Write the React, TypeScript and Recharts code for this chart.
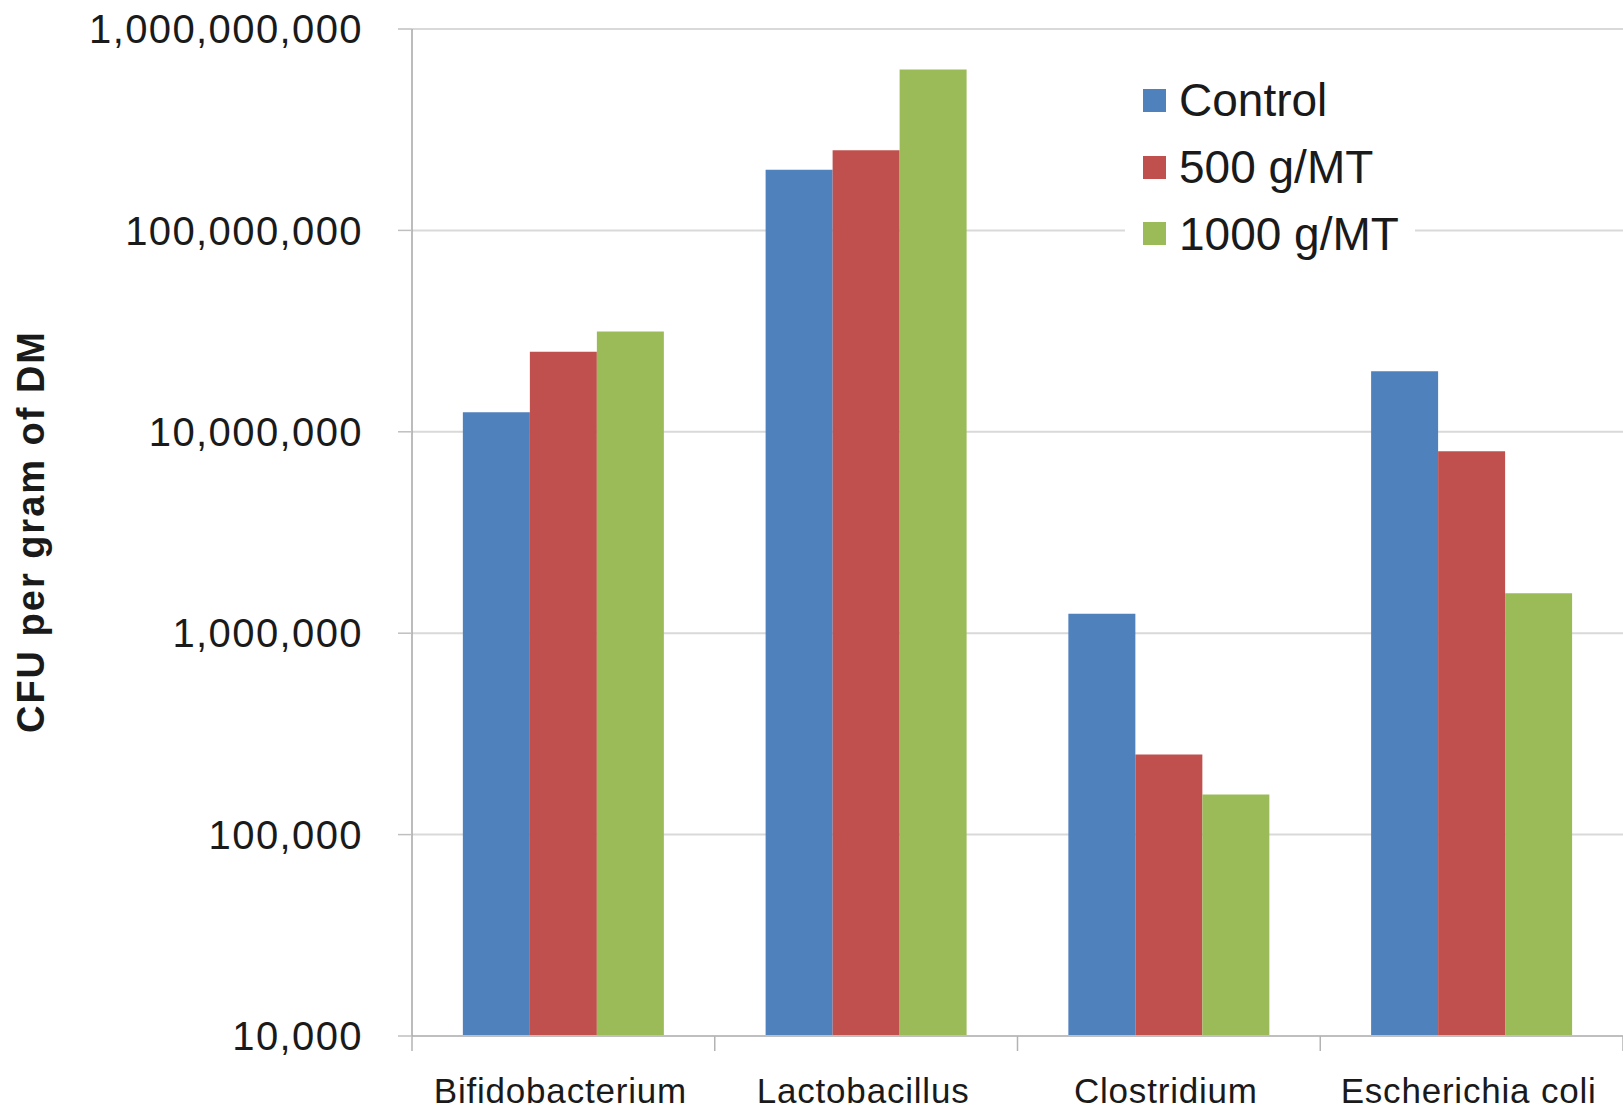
import React from "react";
import { BarChart, Bar, XAxis, YAxis, CartesianGrid, Legend } from "recharts";

const categories = ["Bifidobacterium", "Lactobacillus", "Clostridium", "Escherichia coli"];
const controlValues = [12500000, 200000000, 1250000, 20000000];
const g500Values = [25000000, 250000000, 250000, 8000000];
const g1000Values = [31500000, 630000000, 158000, 1580000];
const yTicks = [10000, 100000, 1000000, 10000000, 100000000, 1000000000];
const boundaryTicks = [0, 1, 2, 3, 4];

const series = [
  { key: "control", name: "Control", color: "#4F81BD" },
  { key: "g500", name: "500 g/MT", color: "#C0504D" },
  { key: "g1000", name: "1000 g/MT", color: "#9BBB59" },
];

const data = categories.map((c, i) => ({
  name: c,
  slot: i + 0.5,
  control: controlValues[i],
  g500: g500Values[i],
  g1000: g1000Values[i],
}));

const FONT = "Arial, 'Liberation Sans', sans-serif";
const TEXT = "#1a1a1a";

const YTick = (props: any) => {
  const { x, y, payload } = props;
  return (
    <text x={x} y={y} dy="0.355em" textAnchor="end" fontFamily={FONT} fontSize={40} fill={TEXT} letterSpacing={1.4}>
      {Number(payload.value).toLocaleString("en-US")}
    </text>
  );
};

const XTick = (props: any) => {
  const { x, y, payload } = props;
  return (
    <text x={x - 3} y={y} dy="0.71em" textAnchor="middle" fontFamily={FONT} fontSize={35} fill={TEXT} letterSpacing={0.8}>
      {payload.value}
    </text>
  );
};

const EmptyTick = () => <g />;

const YLabel = (props: any) => {
  const vb = props.viewBox || {};
  const cx = 30.5;
  const cy = (vb.y ?? 0) + (vb.height ?? 0) / 2;
  return (
    <text
      x={cx}
      y={cy}
      transform={`rotate(-90, ${cx}, ${cy})`}
      textAnchor="middle"
      dominantBaseline="central"
      fontFamily={FONT}
      fontWeight="bold"
      fontSize={38}
      fill={TEXT}
      textLength={401}
      lengthAdjust="spacing"
    >
      CFU per gram of DM
    </text>
  );
};

const LegendContent = () => (
  <div
    style={{
      background: "#ffffff",
      padding: "10px 0 10px 18px",
      width: 272,
      fontFamily: FONT,
    }}
  >
    {series.map((s) => (
      <div key={s.key} style={{ display: "flex", alignItems: "center", height: 66.7 }}>
        <div style={{ width: 23, height: 23, background: s.color, marginRight: 13 }} />
        <span style={{ fontSize: 46, color: TEXT, lineHeight: "46px" }}>{s.name}</span>
      </div>
    ))}
  </div>
);

export default function App() {
  return (
    <div style={{ position: "absolute", left: 0, top: 0, width: 1623, height: 1109, background: "#fff" }}>
      <BarChart
        width={1623}
        height={1109}
        data={data}
        margin={{ top: 29, right: 0, bottom: 0, left: 0 }}
        barCategoryGap="16.8%"
        barGap={0}
      >
        <CartesianGrid vertical={false} stroke="#D9D9D9" strokeWidth={2} />
        <XAxis
          xAxisId="bounds"
          type="number"
          dataKey="slot"
          scale="linear"
          domain={[0, categories.length]}
          ticks={boundaryTicks}
          allowDataOverflow
          height={1}
          tick={<EmptyTick />}
          tickSize={15}
          tickLine={{ stroke: "#B3B3B3", strokeWidth: 1.5 }}
          axisLine={{ stroke: "#BFBFBF", strokeWidth: 2 }}
          interval={0}
        />
        <XAxis
          xAxisId="cat"
          dataKey="name"
          height={72}
          tickLine={false}
          axisLine={false}
          tickSize={0}
          tickMargin={41.5}
          tick={<XTick />}
          interval={0}
        />
        <YAxis
          scale="log"
          domain={[10000, 1000000000]}
          ticks={yTicks}
          allowDataOverflow
          width={412}
          tickSize={14}
          tickMargin={35}
          tick={<YTick />}
          tickLine={{ stroke: "#BFBFBF", strokeWidth: 1.5 }}
          axisLine={{ stroke: "#A6A6A6", strokeWidth: 1.5 }}
          interval={0}
          label={{ content: <YLabel /> }}
        />
        <Legend
          layout="vertical"
          align="center"
          verticalAlign="middle"
          content={<LegendContent />}
          wrapperStyle={{ position: "absolute", left: 1125, top: 57, width: 290 }}
        />
        {series.map((s) => (
          <Bar
            key={s.key}
            xAxisId="cat"
            dataKey={s.key}
            name={s.name}
            fill={s.color}
            isAnimationActive={false}
          />
        ))}
      </BarChart>
    </div>
  );
}
